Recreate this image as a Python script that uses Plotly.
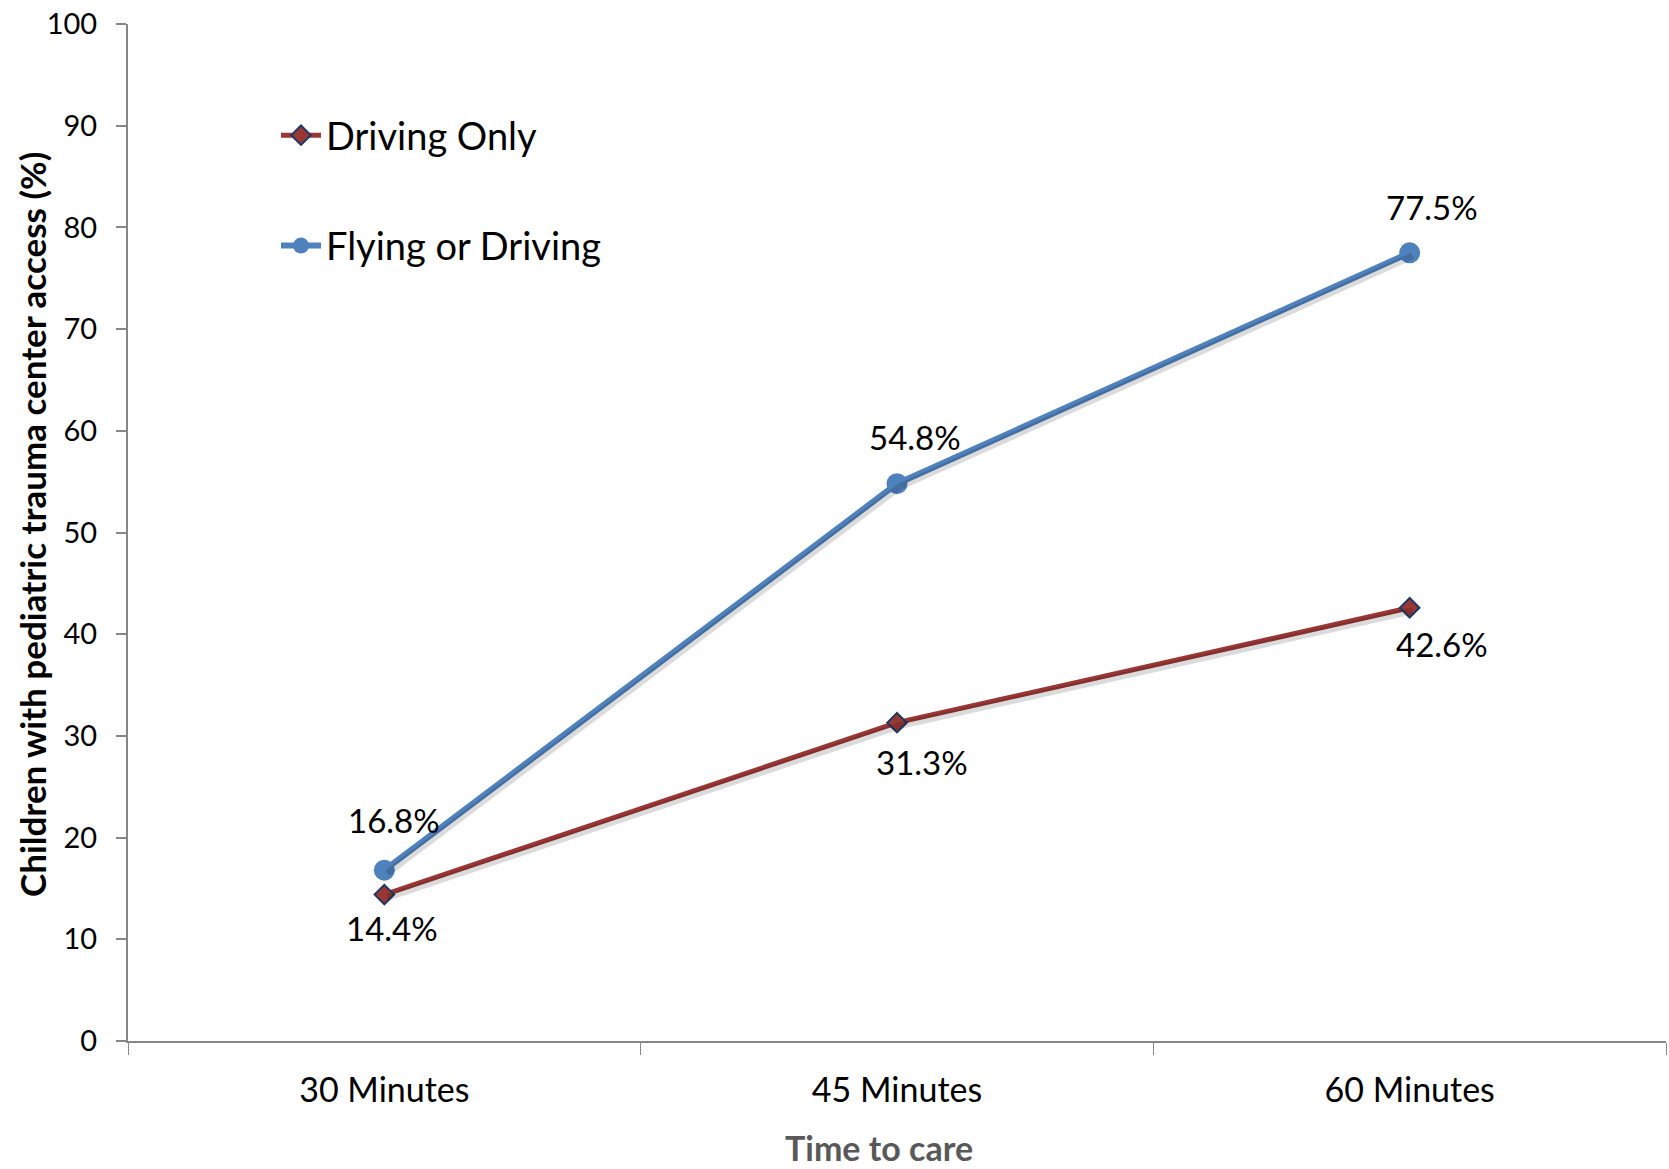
import plotly.graph_objects as go

# Time-to-care categories and share of children reaching a pediatric trauma center
categories = ["30 Minutes", "45 Minutes", "60 Minutes"]
driving_only = [14.4, 31.3, 42.6]
flying_or_driving = [16.8, 54.8, 77.5]
y_ticks = [0, 10, 20, 30, 40, 50, 60, 70, 80, 90, 100]

RED = "#993735"
BLUE = "#4F81BD"
NAVY = "#1F3864"
AXIS = "#868686"
FONT = "Lato, 'Open Sans', sans-serif"

W, H = 1669, 1169
M_L, M_R, M_T, M_B = 128, 3, 24, 128
plot_w = W - M_L - M_R
plot_h = H - M_T - M_B
plot_bottom = M_T + plot_h

fig = go.Figure()

# soft drop shadow under each line, drawn on slightly offset overlay axes
shadow_dx = 3 / (plot_w / 3)
shadow_dy = 3 / (plot_h / 100)
for vals in (driving_only, flying_or_driving):
    fig.add_trace(go.Scatter(
        x=categories, y=vals, mode="lines", xaxis="x2", yaxis="y2",
        line=dict(color="rgba(0,0,0,0.14)", width=7),
        showlegend=False, hoverinfo="skip",
    ))

fig.add_trace(go.Scatter(
    x=categories, y=driving_only, name="Driving Only", mode="lines+markers",
    legendgroup="a",
    line=dict(color=RED, width=5),
    marker=dict(symbol="diamond", size=15, color=RED,
                line=dict(color=NAVY, width=2)),
))
fig.add_trace(go.Scatter(
    x=categories, y=flying_or_driving, name="Flying or Driving", mode="lines+markers",
    legendgroup="b",
    line=dict(color=BLUE, width=6),
    marker=dict(symbol="circle", size=21, color=BLUE),
))

# value labels: driving below its markers, flying above
drive_shift = [(8, -33), (25, -39), (32, -36)]
fly_shift = [(10, 50), (18, 47), (22, 46)]
label_font = dict(family=FONT, size=33, color="#000000")
annotations = []
for cat, v, (dx, dy) in zip(categories, driving_only, drive_shift):
    annotations.append(dict(x=cat, y=v, text=f"{v:.1f}%", showarrow=False,
                            xshift=dx, yshift=dy, font=label_font))
for cat, v, (dx, dy) in zip(categories, flying_or_driving, fly_shift):
    annotations.append(dict(x=cat, y=v, text=f"{v:.1f}%", showarrow=False,
                            xshift=dx, yshift=dy, font=label_font))

# axis titles
annotations.append(dict(
    xref="paper", yref="paper", x=(879 - M_L) / plot_w, y=(plot_bottom - 1147) / plot_h,
    xanchor="center", yanchor="middle",
    text="<b>Time to care</b>", showarrow=False,
    font=dict(family=FONT, size=34, color="#595959"),
))
annotations.append(dict(
    xref="paper", yref="paper", x=(32 - M_L) / plot_w, y=(plot_bottom - 525) / plot_h,
    xanchor="center", yanchor="middle",
    text="<b>Children with pediatric trauma center access (%)</b>", showarrow=False,
    textangle=-90, font=dict(family=FONT, size=35, color="#000000"),
))

fig.update_layout(
    width=W, height=H,
    margin=dict(l=M_L, r=M_R, t=M_T, b=M_B),
    paper_bgcolor="white", plot_bgcolor="white",
    font=dict(family=FONT, color="#000000"),
    showlegend=True,
    legend=dict(
        x=(276 - M_L) / plot_w, y=(plot_bottom - 104) / plot_h,
        xanchor="left", yanchor="top",
        font=dict(family=FONT, size=38, color="#000000"),
        bgcolor="rgba(0,0,0,0)", tracegroupgap=58, itemwidth=40,
    ),
    xaxis=dict(
        type="category", categoryorder="array", categoryarray=categories,
        range=[-0.5, 2.5], tickson="boundaries",
        showline=True, linecolor=AXIS, linewidth=2,
        ticks="outside", ticklen=12, tickcolor=AXIS, tickwidth=1,
        showgrid=False, zeroline=False, ticklabelstandoff=18,
        tickfont=dict(family=FONT, size=34, color="#000000"),
    ),
    yaxis=dict(
        range=[0, 100], tickvals=y_ticks,
        showline=True, linecolor=AXIS, linewidth=2,
        ticks="outside", ticklen=10, tickcolor=AXIS, tickwidth=2,
        showgrid=False, zeroline=False, ticklabelstandoff=13,
        tickfont=dict(family=FONT, size=29, color="#000000"),
    ),
    xaxis2=dict(
        type="category", categoryorder="array", categoryarray=categories,
        overlaying="x", range=[-0.5 - shadow_dx, 2.5 - shadow_dx],
        visible=False,
    ),
    yaxis2=dict(
        overlaying="y", range=[0 + shadow_dy, 100 + shadow_dy], visible=False,
    ),
    annotations=annotations,
)

fig.write_html("out.html")
